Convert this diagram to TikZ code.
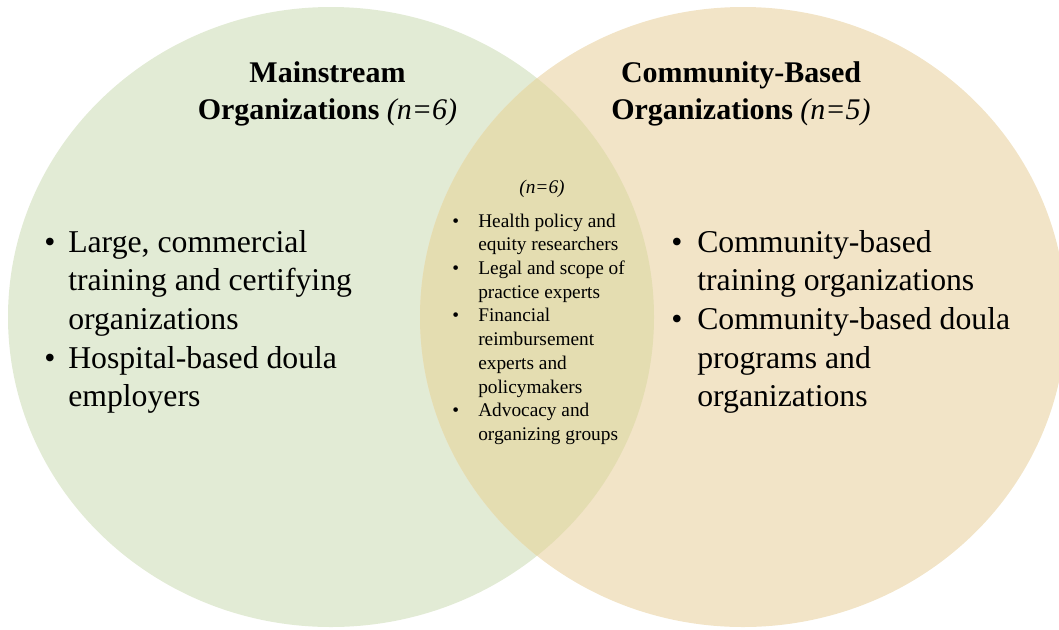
\documentclass[tikz,border=0pt]{standalone}
\usepackage{fontspec}
\setmainfont{Liberation Serif}
\usetikzlibrary{positioning}

\definecolor{mainbg}{HTML}{E2EBD5}
\definecolor{commbg}{HTML}{F2E4C7}
\definecolor{bothbg}{HTML}{E4DDB1}

\newcommand{\headsize}{\fontsize{22.5}{27.75}\selectfont}
\newcommand{\listsize}{\fontsize{23.8}{29.06}\selectfont}
\newcommand{\smallsize}{\fontsize{14.5}{17.8}\selectfont}

\begin{document}
\begin{tikzpicture}[x=0.75pt, y=-0.75pt,
  head/.style={anchor=base, inner sep=0pt, font=\headsize\bfseries},
  biglist/.style={anchor=base west, inner sep=0pt, font=\listsize},
  smalllist/.style={anchor=base west, inner sep=0pt, font=\smallsize}]
\useasboundingbox (0,0) rectangle (1059,629);
% the two sets and their overlap
\fill[mainbg] (331,317) ellipse [x radius=323, y radius=310];
\fill[commbg] (743,317) ellipse [x radius=323, y radius=310];
\begin{scope}
  \clip (331,317) ellipse [x radius=323, y radius=310];
  \fill[bothbg] (743,317) ellipse [x radius=323, y radius=310];
\end{scope}
% headings
\node[head] (mainhead) at (327.5,82) {\begin{tabular}[t]{@{}c@{}}Mainstream\\Organizations \textmd{\textit{(n=6)}}\end{tabular}};
\node[head] (commhead) at (741,82) {\begin{tabular}[t]{@{}c@{}}Community-Based\\Organizations \textmd{\textit{(n=5)}}\end{tabular}};
\node[anchor=base, inner sep=0pt, font=\smallsize\itshape] (bothn) at (542,193) {(n=6)};
% lists
\node[biglist] (mainlist) at (44,252) {\begin{tabular}[t]{@{}p{18pt}@{}l@{}}
  \textbullet & Large, commercial\\
  & training and certifying\\
  & organizations\\
  \textbullet & Hospital-based doula\\
  & employers
\end{tabular}};
\node[biglist] (commlist) at (671,252) {\begin{tabular}[t]{@{}p{19.5pt}@{}l@{}}
  \textbullet & Community-based\\
  & training organizations\\
  \textbullet & Community-based doula\\
  & programs and\\
  & organizations
\end{tabular}};
\node[smalllist] (bothlist) at (452,227) {\begin{tabular}[t]{@{}p{19.5pt}@{}l@{}}
  \textbullet & Health policy and\\
  & equity researchers\\
  \textbullet & Legal and scope of\\
  & practice experts\\
  \textbullet & Financial\\
  & reimbursement\\
  & experts and\\
  & policymakers\\
  \textbullet & Advocacy and\\
  & organizing groups
\end{tabular}};
\end{tikzpicture}
\end{document}
